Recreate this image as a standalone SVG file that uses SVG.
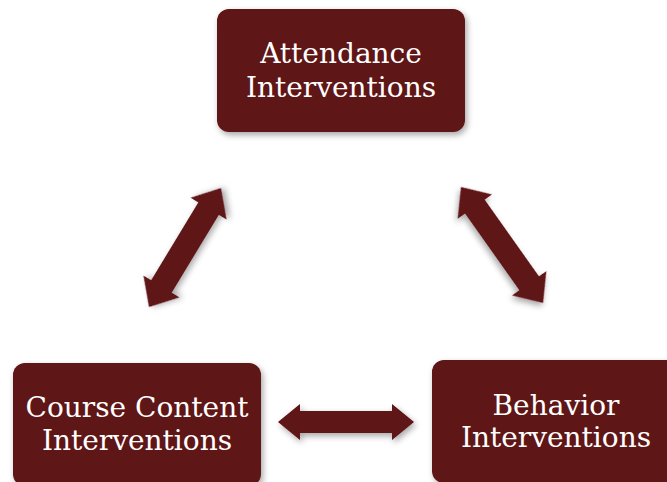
<svg xmlns="http://www.w3.org/2000/svg" width="667" height="482" viewBox="0 0 667 482">
<defs>
<filter id="sh" x="-20%" y="-20%" width="140%" height="150%">
<feDropShadow dx="2" dy="3" stdDeviation="3" flood-color="#000" flood-opacity="0.35"/>
</filter>
<style>
.box{fill:#5f1216;filter:url(#sh);}
.lbl{font-family:"DejaVu Serif","Liberation Serif",serif;font-size:28px;fill:#ffffff;text-anchor:middle;}
.arr{fill:#5f1216;filter:url(#sh);}
</style>
</defs>
<rect width="667" height="482" fill="#ffffff"/>
<g id="connectors">
<path class="arr" transform="translate(149,307) rotate(-58.8)" d="M0,0 L24,-21 L24,-12 L115,-12 L115,-21 L139,0 L115,21 L115,12 L24,12 L24,21 Z"/>
<path class="arr" transform="translate(461,187) rotate(54.7)" d="M0,0 L24,-21 L24,-12 L118,-12 L118,-21 L142,0 L118,21 L118,12 L24,12 L24,21 Z"/>
<path class="arr" transform="translate(278,422)" d="M0,0 L22,-18 L22,-11 L114,-11 L114,-18 L136,0 L114,18 L114,11 L22,11 L22,18 Z"/>
</g>
<g id="attendance">
<rect class="box" x="217" y="9" width="248" height="123" rx="12"/>
<text class="lbl" x="341" y="63">Attendance</text>
<text class="lbl" x="341" y="97">Interventions</text>
</g>
<g id="course-content">
<rect class="box" x="13" y="363" width="248" height="123" rx="12"/>
<text class="lbl" x="137" y="417">Course Content</text>
<text class="lbl" x="137" y="450">Interventions</text>
</g>
<g id="behavior">
<rect class="box" x="432" y="360" width="248" height="123" rx="12"/>
<text class="lbl" x="556" y="415">Behavior</text>
<text class="lbl" x="556" y="447">Interventions</text>
</g>
</svg>
